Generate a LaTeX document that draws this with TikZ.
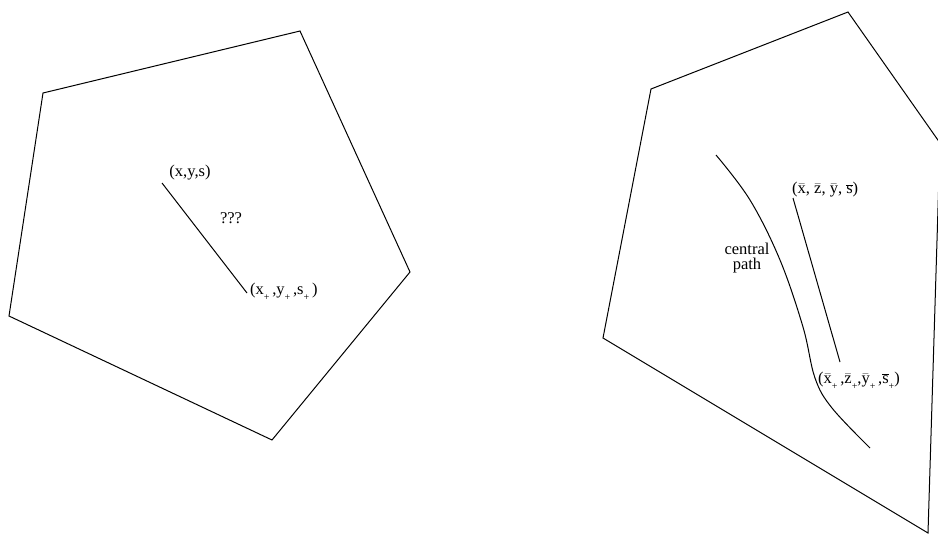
\documentclass[tikz,border=0pt]{standalone}
\usepackage{fontspec}
\setmainfont{Liberation Serif}
\newcommand{\sbp}{\raisebox{-0.8ex}{\fontsize{10}{10}\selectfont +}}
\newcommand{\ovl}[1]{\ensuremath{\overline{\mbox{#1}}}}
\newcommand{\shb}[1]{\ensuremath{\bar{\mbox{#1}}}}
\begin{document}
\begin{tikzpicture}[x=1pt,y=-1pt,
  edge/.style={line width=1pt,line join=miter},
  lbl/.style={inner sep=0pt,font=\fontsize{16.5}{18}\selectfont}]
\useasboundingbox (0,0) rectangle (938,539);
\clip (0,0) rectangle (938,539);
% left pentagon
\coordinate (a1) at (43,93);
\coordinate (a2) at (300,31);
\coordinate (a3) at (410,272);
\coordinate (a4) at (272,440);
\coordinate (a5) at (9,316);
\draw[edge] (a1) -- (a2) -- (a3) -- (a4) -- (a5) -- cycle;
% left segment
\coordinate (p0) at (162,183);
\coordinate (p1) at (247,293);
\draw[edge] (p0) -- (p1);
\node[lbl] (lxys) at (190,173) {(x,y,s)};
\node[lbl] (lq) at (231,218) {???};
\node[lbl,anchor=west] (lxp) at (250,292) {(x\sbp\,,y\sbp\,,s\sbp\,)};
% right polygon
\coordinate (b1) at (651,89);
\coordinate (b2) at (848,12);
\coordinate (b3) at (940,143);
\coordinate (b4) at (928,533);
\coordinate (b5) at (603,338);
\draw[edge] (b1) -- (b2) -- (b3) -- (b4) -- (b5) -- cycle;
% central path
\coordinate (c0) at (716,155);
\coordinate (c6) at (870,448);
\draw[edge] plot[smooth,tension=0.6] coordinates {(716,155) (750,200) (780,260) (803,327) (815,378) (832,408) (870,448)};
\node[lbl,align=center] (cp) at (747,258) {central\\[-3pt]path};
% right segment
\coordinate (q0) at (793,198);
\coordinate (q1) at (840,362);
\draw[edge] (q0) -- (q1);
\node[lbl,anchor=west] (rb) at (792,190) {(\shb{x}, \shb{z}, \shb{y}, \ovl{s})};
\node[lbl,anchor=west] (rbp) at (818,381) {(\shb{x}\sbp\,,\shb{z}\sbp,\shb{y}\sbp\,,\ovl{s}\sbp)};
\end{tikzpicture}
\end{document}
